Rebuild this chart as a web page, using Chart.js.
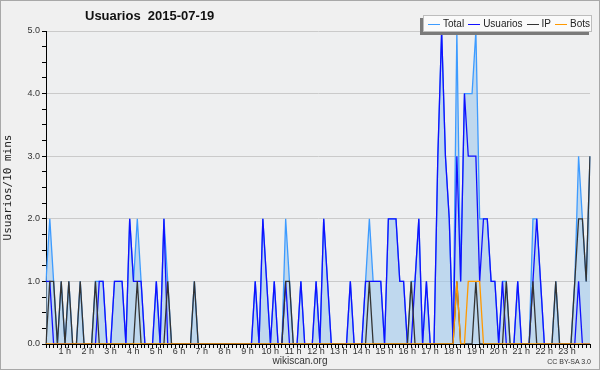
<!DOCTYPE html>
<html>
<head>
<meta charset="utf-8">
<script src="https://cdn.jsdelivr.net/npm/chart.js@4.4.0/dist/chart.umd.min.js"></script>
<style>
  html, body { margin: 0; padding: 0; background: #f0f0f0; }
  #wrap { position: relative; width: 600px; height: 370px; background: #f0f0f0; font-family: "Liberation Sans", Arial, sans-serif; }
  #frame { position: absolute; left: 0; top: 0; width: 598px; height: 368px; border: 1px solid #a8a8a8; pointer-events: none; }
  #title { position: absolute; left: 85px; top: 8px; font-weight: bold; font-size: 13px; color: #111; white-space: pre; }
  #legend { position: absolute; left: 423px; top: 15px; width: 167px; height: 15px; background: #fafafa; border: 1px solid #bdbdbd; box-shadow: -3px 3px 0 #7a7a7a; font-size: 10px; color: #222; line-height: 15px; white-space: nowrap; }
  #legend span.l { display: inline-block; width: 12px; height: 0; border-top: 1px solid; vertical-align: middle; margin: 0 3px 0 4px; }
  #site { position: absolute; left: 0; width: 600px; top: 355px; text-align: center; font-size: 10px; color: #333; }
  #lic { position: absolute; right: 9px; top: 358px; font-size: 7px; color: #333; }
</style>
</head>
<body>
<div id="wrap">
  <canvas id="myChart" width="600" height="370"></canvas>
  <div id="title">Usuarios  2015-07-19</div>
  <div id="legend"><span class="l" style="border-color:#3d9bff"></span>Total<span class="l" style="border-color:#1010ff"></span>Usuarios<span class="l" style="border-color:#333"></span>IP<span class="l" style="border-color:#ff9900"></span>Bots</div>
  <div id="site">wikiscan.org</div>
  <div id="lic">CC BY-SA 3.0</div>
  <div id="frame"></div>
</div>
<script>
  "use strict";

  // hour labels, one per 6 slots of 10 minutes
  const hourLabels = ["", "1 h", "2 h", "3 h", "4 h", "5 h", "6 h", "7 h", "8 h", "9 h", "10 h", "11 h",
    "12 h", "13 h", "14 h", "15 h", "16 h", "17 h", "18 h", "19 h", "20 h", "21 h", "22 h", "23 h"];

  // one value per 10 minutes (6 per hour, 24 per row)
  const total = [
    1,2,1,0,1,0, 1,0,0,1,0,0, 0,1,1,1,0,0, 1,1,1,0,2,1,
    2,1,0,0,0,1, 0,2,1,0,0,0, 0,0,0,1,0,0, 0,0,0,0,0,0,
    0,0,0,0,0,0, 0,1,0,2,1,0, 1,0,0,2,1,0, 0,1,0,0,0,1,
    0,2,1,0,0,0, 0,0,1,0,0,0, 1,2,1,1,1,0, 2,2,2,1,1,0,
    1,1,2,0,1,0, 0,3,5,3,2,0, 5,1,4,4,4,5, 2,2,2,1,1,0,
    1,1,0,0,1,0, 0,0,2,2,1,0, 0,0,1,0,0,0, 0,1,3,2,1,3
  ];
  const usuarios = [
    1,1,0,0,0,0, 0,0,0,0,0,0, 0,0,1,1,0,0, 1,1,1,0,2,1,
    1,1,0,0,0,1, 0,2,0,0,0,0, 0,0,0,0,0,0, 0,0,0,0,0,0,
    0,0,0,0,0,0, 0,1,0,2,1,0, 1,0,0,1,0,0, 0,1,0,0,0,1,
    0,2,1,0,0,0, 0,0,1,0,0,0, 1,1,1,1,1,0, 2,2,2,1,1,0,
    0,1,2,0,1,0, 0,3,5,3,2,0, 3,1,4,3,3,3, 1,2,2,1,1,0,
    1,0,0,0,1,0, 0,0,1,2,1,0, 0,0,0,0,0,0, 0,0,1,0,0,0
  ];
  const ip = [
    0,1,1,0,1,0, 1,0,0,1,0,0, 0,1,0,0,0,0, 0,0,0,0,0,0,
    1,0,0,0,0,0, 0,0,1,0,0,0, 0,0,0,1,0,0, 0,0,0,0,0,0,
    0,0,0,0,0,0, 0,0,0,0,0,0, 0,0,0,1,1,0, 0,0,0,0,0,0,
    0,0,0,0,0,0, 0,0,0,0,0,0, 0,1,0,0,0,0, 0,0,0,0,0,0,
    1,0,0,0,0,0, 0,0,0,0,0,0, 1,0,0,0,0,1, 0,0,0,0,0,0,
    0,1,0,0,0,0, 0,0,1,0,0,0, 0,0,1,0,0,0, 0,1,2,2,1,3
  ];
  const bots = [
    0,0,0,0,0,0, 0,0,0,0,0,0, 0,0,0,0,0,0, 0,0,0,0,0,0,
    0,0,0,0,0,0, 0,0,0,0,0,0, 0,0,0,0,0,0, 0,0,0,0,0,0,
    0,0,0,0,0,0, 0,0,0,0,0,0, 0,0,0,0,0,0, 0,0,0,0,0,0,
    0,0,0,0,0,0, 0,0,0,0,0,0, 0,0,0,0,0,0, 0,0,0,0,0,0,
    0,0,0,0,0,0, 0,0,0,0,0,0, 1,0,0,1,1,1, 1,0,0,0,0,0,
    0,0,0,0,0,0, 0,0,0,0,0,0, 0,0,0,0,0,0, 0,0,0,0,0,0
  ];

  const labels = total.map((v, i) => (i % 6 === 0 ? hourLabels[i / 6] : ""));

  // plot area background
  const plotBg = {
    id: "plotBg",
    beforeDraw(chart) {
      const a = chart.chartArea;
      chart.ctx.save();
      chart.ctx.fillStyle = "#eeeff0";
      chart.ctx.fillRect(a.left, a.top, a.right - a.left, a.bottom - a.top);
      chart.ctx.restore();
    },
  };

  const lineDs = (label, data, color, order) => ({
    label: label,
    data: data,
    borderColor: color,
    borderWidth: 1.3,
    pointRadius: 0,
    tension: 0,
    fill: false,
    order: order,
  });

  const totalDs = lineDs("Total", total, "#3d9bff", 4);
  totalDs.fill = "origin";
  totalDs.backgroundColor = "rgba(160,200,236,0.6)";

  const ctx = document.getElementById("myChart").getContext("2d");
  new Chart(ctx, {
    type: "line",
    data: {
      labels: labels,
      datasets: [
        totalDs,
        lineDs("Usuarios", usuarios, "#1010ff", 3),
        lineDs("IP", ip, "#333333", 2),
        lineDs("Bots", bots, "#ff9900", 1),
      ],
    },
    options: {
      responsive: false,
      animation: false,
      devicePixelRatio: 1,
      layout: { padding: { left: 0, right: 10, top: 31, bottom: 0 } },
      plugins: {
        legend: { display: false },
        title: { display: false },
        tooltip: { enabled: false },
      },
      scales: {
        x: {
          type: "category",
          afterFit: (s) => { s.height = 26; },
          border: { color: "#000", width: 1 },
          grid: { drawOnChartArea: false, tickColor: "#000", tickLength: 4 },
          ticks: {
            autoSkip: false,
            maxRotation: 0,
            padding: -2,
            labelOffset: -4,
            color: "#333",
            font: { family: "Liberation Sans", size: 9 },
          },
        },
        y: {
          min: 0,
          max: 5,
          afterFit: (s) => { s.width = 46; },
          border: { color: "#000", width: 1 },
          grid: {
            color: (c) => (c.tick && Number.isInteger(c.tick.value) && c.tick.value > 0 ? "#cacaca" : "rgba(0,0,0,0)"),
            tickColor: "#000",
            tickLength: 4,
          },
          ticks: {
            stepSize: 0.25,
            autoSkip: false,
            padding: 2,
            color: "#333",
            font: { family: "Liberation Sans", size: 9 },
            callback: (v) => (Number.isInteger(v) ? v.toFixed(1) : ""),
          },
          title: {
            display: true,
            text: "Usuarios/10 mins",
            color: "#222",
            padding: { top: 2, bottom: 0 },
            font: { family: "DejaVu Sans Mono", size: 11 },
          },
        },
      },
    },
    plugins: [plotBg],
  });
</script>
</body>
</html>
